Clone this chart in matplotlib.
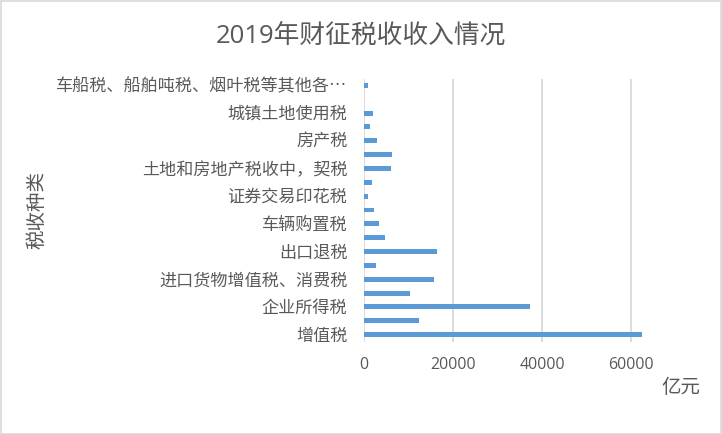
import matplotlib
matplotlib.use("Agg")
import matplotlib.pyplot as plt
from matplotlib.patches import Rectangle

plt.rcParams['font.family'] = ['Open Sans', 'Noto Sans CJK SC', 'DejaVu Sans']

# categories from bottom to top (only every other one is labelled on the axis)
categories = [
    "增值税", "消费税", "企业所得税", "个人所得税", "进口货物增值税、消费税",
    "关税", "出口退税", "城市维护建设税", "车辆购置税", "印花税",
    "证券交易印花税", "资源税", "土地和房地产税收中，契税", "土地增值税", "房产税",
    "耕地占用税", "城镇土地使用税", "环境保护税", "车船税、船舶吨税、烟叶税等其他各⋯",
]
values = [
    62300, 12350, 37200, 10300, 15650,
    2750, 16350, 4650, 3400, 2250,
    1000, 1700, 6150, 6350, 2850,
    1250, 2100, 0, 1000,
]
xticks = [0, 20000, 40000, 60000]

text_color = "#595959"
bar_color = "#5B9BD5"
grid_color = "#D9D9D9"

W, H = 722, 434
fig = plt.figure(figsize=(W / 100, H / 100), dpi=100)
fig.patches.append(Rectangle((0.5 / W, 0.5 / H), 1 - 1.5 / W, 1 - 1.5 / H,
                             transform=fig.transFigure, fill=False,
                             edgecolor=grid_color, linewidth=1.2))

left, right, top, bottom = 364, 658, 78.5, 341.5
ax = fig.add_axes([left / W, 1 - bottom / H, (right - left) / W, (bottom - top) / H])

pos = list(range(len(categories)))
ax.barh(pos, values, height=0.36, color=bar_color, zorder=3)

ax.set_ylim(-0.5, len(categories) - 0.5)
ax.set_xlim(0, 66000)
ax.set_xticks(xticks)
ax.set_xticklabels([str(v) for v in xticks])
ax.set_yticks(pos[::2])
ax.set_yticklabels(categories[::2])

ax.grid(axis="x", color=grid_color, linewidth=1.3, zorder=0)
for s in ax.spines.values():
    s.set_visible(False)
ax.tick_params(axis="both", length=0, colors=text_color)
ax.tick_params(axis="x", pad=11, labelsize=11.5)
ax.tick_params(axis="y", pad=12, labelsize=12.3)

fig.text(361 / W, 1 - 36 / H, "2019年财征税收收入情况", ha="center", va="center",
         fontsize=18.5, color=text_color)
fig.text(37 / W, 1 - 210 / H, "税收种类", ha="center", va="center", rotation=90,
         fontsize=14, color=text_color)
fig.text(681 / W, 1 - 388 / H, "亿元", ha="center", va="center",
         fontsize=14, color=text_color)

fig.savefig("out.png", dpi=100)
